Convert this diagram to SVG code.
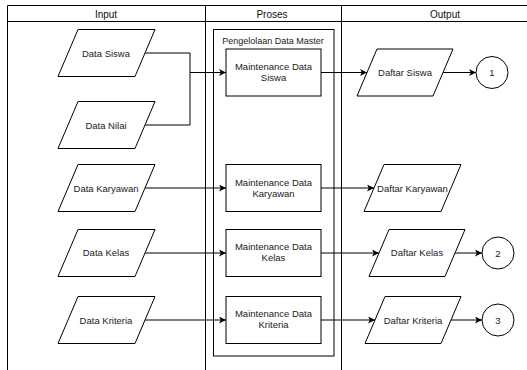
<svg xmlns="http://www.w3.org/2000/svg" width="527" height="370" viewBox="0 0 527 370">
  <style>
    .ln { fill: none; stroke: #000; stroke-width: 1; }
    .shape { fill: #fff; stroke: #000; stroke-width: 1; }
    .txt { font-family: "Liberation Sans", Arial, sans-serif; font-size: 9.5px; fill: #222; text-anchor: middle; }
    .hdr { font-family: "Liberation Sans", Arial, sans-serif; font-size: 10px; fill: #111; text-anchor: middle; }
    .flow { fill: none; stroke: #000; stroke-width: 1; marker-end: url(#arrow); }
  </style>
  <defs>
    <marker id="arrow" markerUnits="userSpaceOnUse" markerWidth="8" markerHeight="8" refX="7" refY="3.5" orient="auto">
      <path d="M0,0 L7,3.5 L0,7 L1.8,3.5 Z" fill="#000"/>
    </marker>
  </defs>
  <rect width="527" height="370" fill="#fff"/>

  <!-- swimlane table -->
  <g id="lanes">
    <path class="ln" d="M7.5,5.5 H527 M7.5,21.5 H527 M7.5,5.5 V370 M205.5,5.5 V370 M341.5,5.5 V370"/>
    <text class="hdr" x="106" y="18">Input</text>
    <text class="hdr" x="272" y="18">Proses</text>
    <text class="hdr" x="445" y="18">Output</text>
  </g>

  <!-- process container -->
  <g id="pengelolaan">
    <rect class="ln" x="213.5" y="29.5" width="120.5" height="326.5"/>
    <text class="txt" x="273" y="44" style="font-size:9px">Pengelolaan Data Master</text>
  </g>

  <!-- inputs -->
  <g id="in-siswa">
    <polygon class="shape" points="78,29.5 155,29.5 135,76.5 58,76.5"/>
    <text class="txt" x="106" y="56.5">Data Siswa</text>
  </g>
  <g id="in-nilai">
    <polygon class="shape" points="78,101.5 155,101.5 135,148.5 58,148.5"/>
    <text class="txt" x="106" y="128.5">Data Nilai</text>
  </g>
  <g id="in-karyawan">
    <polygon class="shape" points="78,164.5 155,164.5 135,211.5 58,211.5"/>
    <text class="txt" x="106" y="191.5">Data Karyawan</text>
  </g>
  <g id="in-kelas">
    <polygon class="shape" points="78,229.5 155,229.5 135,276.5 58,276.5"/>
    <text class="txt" x="106" y="256">Data Kelas</text>
  </g>
  <g id="in-kriteria">
    <polygon class="shape" points="78,296.5 155,296.5 135,343.5 58,343.5"/>
    <text class="txt" x="106" y="323.5">Data Kriteria</text>
  </g>

  <!-- processes -->
  <g id="proc-siswa">
    <rect class="shape" x="226" y="49" width="95" height="47"/>
    <text class="txt" x="273.5" y="70">Maintenance Data</text>
    <text class="txt" x="273.5" y="81">Siswa</text>
  </g>
  <g id="proc-karyawan">
    <rect class="shape" x="226" y="164.5" width="95" height="47"/>
    <text class="txt" x="273.5" y="185.5">Maintenance Data</text>
    <text class="txt" x="273.5" y="196.5">Karyawan</text>
  </g>
  <g id="proc-kelas">
    <rect class="shape" x="226" y="229.5" width="95" height="47"/>
    <text class="txt" x="273.5" y="250">Maintenance Data</text>
    <text class="txt" x="273.5" y="261">Kelas</text>
  </g>
  <g id="proc-kriteria">
    <rect class="shape" x="226" y="296.5" width="95" height="47"/>
    <text class="txt" x="273.5" y="317">Maintenance Data</text>
    <text class="txt" x="273.5" y="328">Kriteria</text>
  </g>

  <!-- outputs -->
  <g id="out-siswa">
    <polygon class="shape" points="377,49 453,49 433,96 357,96"/>
    <text class="txt" x="405" y="76">Daftar Siswa</text>
  </g>
  <g id="out-karyawan">
    <polygon class="shape" points="384,164.5 461,164.5 441,211.5 364,211.5"/>
    <text class="txt" x="412.5" y="191.5">Daftar Karyawan</text>
  </g>
  <g id="out-kelas">
    <polygon class="shape" points="389,229.5 465,229.5 445,276.5 369,276.5"/>
    <text class="txt" x="417" y="256">Daftar Kelas</text>
  </g>
  <g id="out-kriteria">
    <polygon class="shape" points="385,296.5 461,296.5 441,343.5 365,343.5"/>
    <text class="txt" x="413" y="323.5">Daftar Kriteria</text>
  </g>

  <!-- off-page connectors -->
  <g id="ref-1">
    <circle class="shape" cx="492" cy="72.5" r="16"/>
    <text class="txt" x="492" y="76">1</text>
  </g>
  <g id="ref-2">
    <circle class="shape" cx="498" cy="253" r="16"/>
    <text class="txt" x="498" y="256.5">2</text>
  </g>
  <g id="ref-3">
    <circle class="shape" cx="498" cy="320" r="16"/>
    <text class="txt" x="498" y="323.5">3</text>
  </g>

  <!-- connectors -->
  <g id="connectors">
    <path class="ln" d="M145,53 H190 V125 H145"/>
    <path class="flow" d="M190,72.5 H226"/>
    <path class="flow" d="M145,188 H226"/>
    <path class="flow" d="M145,253 H226"/>
    <path class="flow" d="M145,320 H226"/>
    <path class="flow" d="M321,72.5 H367"/>
    <path class="flow" d="M321,188 H374"/>
    <path class="flow" d="M321,253 H379"/>
    <path class="flow" d="M321,320 H375"/>
    <path class="flow" d="M443,72.5 H476"/>
    <path class="flow" d="M455,253 H482"/>
    <path class="flow" d="M451,320 H482"/>
  </g>
</svg>
